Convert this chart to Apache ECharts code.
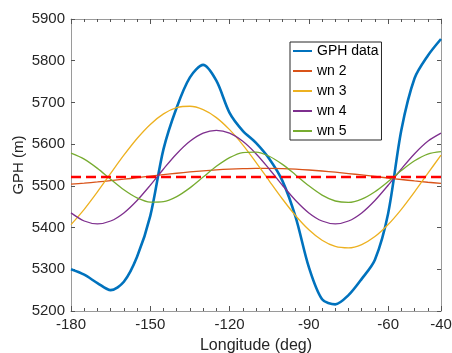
<!DOCTYPE html>
<html>
<head>
<meta charset="utf-8">
<script src="https://cdn.jsdelivr.net/npm/echarts@6/dist/echarts.min.js"></script>
<style>
html,body{margin:0;padding:0;background:#fff;}
#chart{width:452px;height:353px;}
</style>
</head>
<body>
<div id="chart"></div>
<script>
// Longitude grid (deg)
var lon = [-180,-175,-170,-165,-160,-155,-150,-145,-140,-135,-130,-125,-120,-115,-110,-105,-100,-95,-90,-85,-80,-75,-70,-65,-60,-55,-50,-45,-40];
// GPH data (m)
var gphData = [5300,5287,5267,5250,5270,5330,5428,5588,5688,5760,5790,5752,5675,5632,5603,5565,5512,5425,5305,5228,5216,5238,5277,5323,5434,5634,5758,5812,5852];
// Wave-number components (m)
var wn2 = [5504.0,5506.4,5509.3,5512.5,5515.9,5519.5,5523.2,5526.8,5530.2,5533.3,5536.1,5538.4,5540.2,5541.4,5542.0,5541.9,5541.2,5539.9,5538.0,5535.6,5532.7,5529.5,5526.1,5522.5,5518.8,5515.2,5511.8,5508.7,5505.9];
var wn3 = [5407.2,5443.8,5485.6,5529.9,5573.5,5613.6,5647.3,5672.5,5687.3,5690.8,5682.7,5663.6,5634.7,5598.2,5556.4,5512.1,5468.5,5428.4,5394.7,5369.5,5354.7,5351.2,5359.3,5378.4,5407.3,5443.8,5485.6,5529.9,5573.5];
var wn4 = [5435.2,5415.7,5409.0,5415.7,5435.2,5465.0,5501.5,5540.5,5577.0,5606.8,5626.3,5633.0,5626.3,5606.8,5577.0,5540.5,5501.5,5465.0,5435.2,5415.7,5409.0,5415.7,5435.2,5465.0,5501.5,5540.5,5577.0,5606.8,5626.3];
var wn5 = [5578.3,5564.1,5541.9,5515.7,5490.5,5471.0,5460.9,5462.1,5474.3,5495.2,5521.0,5546.8,5567.7,5579.9,5581.1,5571.0,5551.5,5526.3,5500.1,5477.9,5463.7,5460.2,5468.2,5486.0,5510.4,5536.8,5560.2,5576.3,5582.0];
// Zonal mean (m)
var meanLon = [-180,-40];
var meanGph = [5521,5521];
var seriesNames = ['GPH data','wn 2','wn 3','wn 4','wn 5'];

function pairs(xs, ys){ return xs.map(function(x,i){ return [x, ys[i]]; }); }

var FONT = '"Liberation Sans", Arial, Helvetica, sans-serif';
var axisGray = '#9a9a9a';
var tickDark = '#555';

var chart = echarts.init(document.getElementById('chart'), null, {renderer:'canvas'});

function xAx(pos, interval, len, showLine, showLabel, extra){
  var a = {
    type:'value', position:pos, min:-180, max:-40, interval:interval, gridIndex:0,
    axisLine:{show:showLine, onZero:false, lineStyle:{color:axisGray, width:1}},
    axisTick:{show:true, inside:true, length:len, lineStyle:{color:tickDark, width:1}},
    axisLabel:{show:showLabel, color:'#262626', fontSize:15, fontFamily:FONT, margin:6,
      formatter:function(v){ return String(v); }},
    splitLine:{show:false}
  };
  if (extra) for (var k in extra) a[k]=extra[k];
  return a;
}
function yAx(pos, showLabel, extra){
  var a = {
    type:'value', position:pos, min:5200, max:5900, interval:100, gridIndex:0,
    axisLine:{show:true, onZero:false, lineStyle:{color:axisGray, width:1}},
    axisTick:{show:true, inside:true, length:4, lineStyle:{color:tickDark, width:1}},
    axisLabel:{show:showLabel, color:'#262626', fontSize:15, fontFamily:FONT, margin:6,
      formatter:function(v){ return String(v); }},
    splitLine:{show:false}
  };
  if (extra) for (var k in extra) a[k]=extra[k];
  return a;
}

var colors = ['#0072BD','#D95319','#EDB120','#7E2F8E','#77AC30'];
var datasets = [gphData, wn2, wn3, wn4, wn5];
var series = datasets.map(function(d,i){
  return {
    name: seriesNames[i], type:'line', xAxisIndex:0, yAxisIndex:0,
    data: pairs(lon, d), symbol:'none', smooth:0.3, clip:true,
    lineStyle:{color:colors[i], width: i===0 ? 2.6 : 1.3},
    itemStyle:{color:colors[i]},
    z: 2 + i
  };
});
series.push({
  name:'mean', type:'line', xAxisIndex:0, yAxisIndex:0,
  data: pairs(meanLon, meanGph), symbol:'none',
  lineStyle:{color:'#FF0000', width:2.5, type:[10,5]},
  z: 10
});

chart.setOption({
  animation:false,
  backgroundColor:'#fff',
  grid:{left:71, right:11, top:19, bottom:42, containLabel:false, outerBoundsMode:'none'},
  legend:{
    data: seriesNames, orient:'vertical', left:290, top:42,
    itemWidth:19, itemHeight:14, itemGap:6, padding:[2,3,2,2],
    borderColor:'#262626', borderWidth:1, backgroundColor:'#fff',
    itemStyle:{opacity:0},
    textStyle:{fontSize:14, fontFamily:FONT, color:'#000'},
    selectedMode:false
  },
  xAxis:[
    xAx('bottom',30,5,true,true,{name:'Longitude (deg)', nameLocation:'middle', nameGap:27,
      nameMoveOverlap:false,
      nameTextStyle:{fontSize:16, fontFamily:FONT, color:'#262626'}}),
    xAx('bottom',5,3,false,false),
    xAx('top',30,5,true,false),
    xAx('top',5,3,false,false)
  ],
  yAxis:[
    yAx('left',true,{name:'GPH (m)', nameLocation:'middle', nameGap:45, nameRotate:90,
      nameMoveOverlap:false,
      nameTextStyle:{fontSize:15, fontFamily:FONT, color:'#262626'}}),
    yAx('right',false)
  ],
  series: series
});
</script>
</body>
</html>
